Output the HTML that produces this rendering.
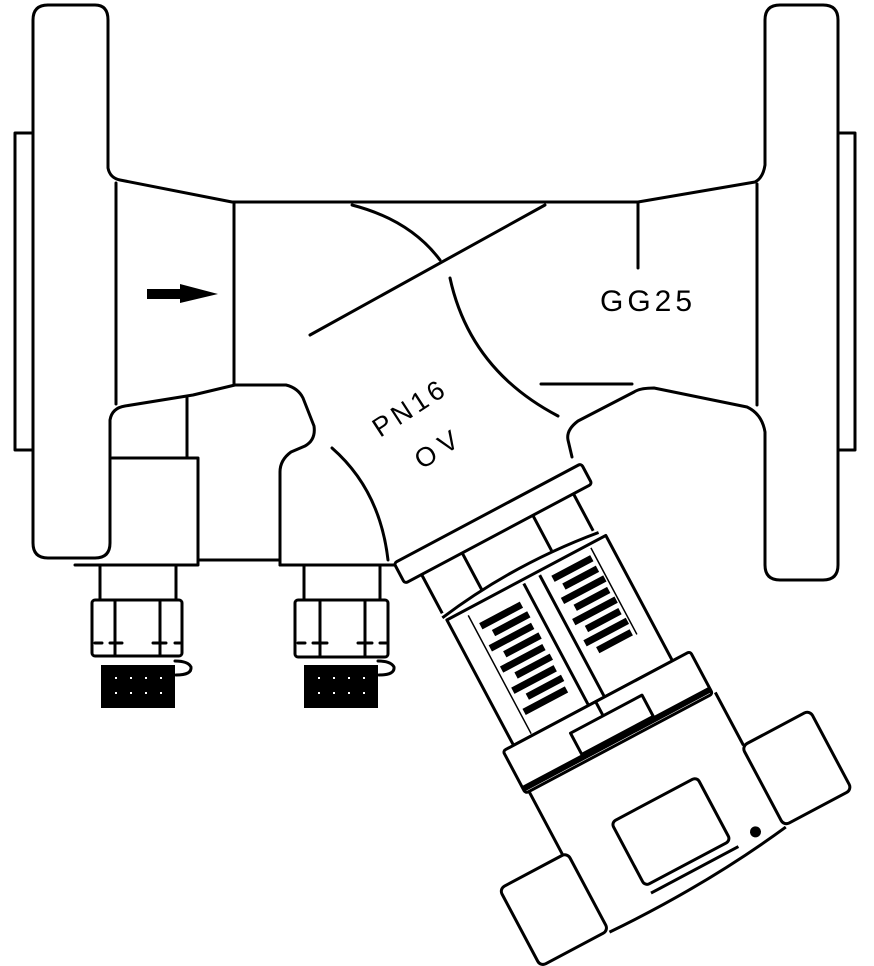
<!DOCTYPE html>
<html><head><meta charset="utf-8"><style>
html,body{margin:0;padding:0;background:#fff;width:874px;height:966px;overflow:hidden}
svg{display:block}
text{font-family:"Liberation Sans",sans-serif;fill:#000}
</style></head><body>
<svg width="874" height="966" viewBox="0 0 874 966" xmlns="http://www.w3.org/2000/svg">
<g fill="none" stroke="#000" stroke-width="3" stroke-linejoin="round" stroke-linecap="round">
<path d="M15,133 H33 M15,133 V450 H33"/>
<path d="M48,5 H95 Q108,5 108,20 V168 Q110,178 120,180 L232,202 H638 L755,182 Q763,178 765,165 V20 Q765,5 780,5 H823 Q838,5 838,20 V565 Q838,580 823,580 H780 Q765,580 765,565 V432 Q762,414 747,407 L654,388 Q640,388 634,392 L578,421 Q566,430 568,440 L572,457"/>
<path d="M838,133 H855 V450 H838"/>
<path d="M48,5 Q33,5 33,20 V543 Q33,558 48,558 H95 Q110,558 110,543 V420 Q112,408 125,406 L193,395 L235,385 H286 Q298,388 303,398 L314,426 Q316,440 305,446 L291,452 Q280,460 280,472 V565"/>
<line x1="116" y1="183" x2="116" y2="404"/>
<line x1="234" y1="203" x2="234" y2="385"/>
<line x1="757" y1="184" x2="757" y2="405"/>
<line x1="187" y1="398" x2="187" y2="458"/>
<path d="M112,458 H198 V565 H75"/>
<line x1="198" y1="560" x2="280" y2="560"/>
<line x1="280" y1="565" x2="402" y2="565"/>
<path d="M332,448 Q380,490 388,560"/>
<path d="M352,205 Q410,220 440,260"/>
<line x1="310" y1="335" x2="545" y2="205"/>
<path d="M450,278 Q470,370 558,416"/>
<line x1="541" y1="384" x2="632" y2="384"/>
<line x1="638" y1="203" x2="638" y2="268"/>
<path d="M100,565 V600 M176,565 V600"/>
<rect x="92" y="600" width="90" height="56" rx="3"/>
<path d="M115,600 V656 M160,600 V656 M95,643 H102 M110,643 H122 M153,643 H166 M175,643 H180"/>
<path d="M175,661 Q188,661 191,667 Q192,675 176,675"/>
<path d="M304,565 V600 M380,565 V600"/>
<rect x="295" y="600" width="93" height="57" rx="3"/>
<path d="M320,600 V657 M365,600 V657 M298,643 H305 M313,643 H327 M358,643 H372 M380,643 H386"/>
<path d="M378,661 Q391,661 394,667 Q395,675 379,675"/>
</g>
<rect x="101" y="665" width="74" height="43" fill="#000"/>
<rect x="304" y="665" width="74" height="43" fill="#000"/>
<g fill="#fff">
<rect x="115" y="677" width="2" height="2"/><rect x="130" y="677" width="2" height="2"/><rect x="145" y="677" width="2" height="2"/><rect x="160" y="677" width="2" height="2"/>
<rect x="115" y="692" width="2" height="2"/><rect x="130" y="692" width="2" height="2"/><rect x="145" y="692" width="2" height="2"/><rect x="160" y="692" width="2" height="2"/>
<rect x="318" y="677" width="2" height="2"/><rect x="333" y="677" width="2" height="2"/><rect x="348" y="677" width="2" height="2"/><rect x="363" y="677" width="2" height="2"/>
<rect x="318" y="692" width="2" height="2"/><rect x="333" y="692" width="2" height="2"/><rect x="348" y="692" width="2" height="2"/><rect x="363" y="692" width="2" height="2"/>
</g>
<path d="M147,289 H180 V284 L218,294 L180,303 V299 H147 Z" fill="#000"/>
<text x="600" y="311" font-size="30" letter-spacing="4">GG25</text>
<text transform="translate(380,438) rotate(-33)" font-size="27" letter-spacing="4">PN16</text>
<text transform="translate(422,470) rotate(-33)" font-size="27" letter-spacing="7">OV</text>
<g transform="translate(490,520) rotate(-28)" fill="none" stroke="#000" stroke-width="3" stroke-linejoin="round">
<rect x="-105" y="-7" width="212" height="23" rx="3" fill="#fff"/>
<path d="M-86,16 V60 M86,16 V58"/>
<path d="M-88,64 Q0,50 90,62"/>
<path d="M-40,16 V58 M40,16 V56"/>
<rect x="-85" y="68" width="180" height="142"/>
<path d="M0,72 V210 M18,72 V210"/>
<path d="M-64,74 V208 M76,72 V170" stroke-width="1.5"/>
<g fill="#000" stroke="none">
<rect x="-58" y="86" width="46" height="7"/><rect x="-50" y="98" width="40" height="7"/>
<rect x="-60" y="110" width="48" height="7"/><rect x="-50" y="122" width="40" height="7"/>
<rect x="-60" y="134" width="48" height="7"/><rect x="-50" y="146" width="40" height="7"/>
<rect x="-60" y="158" width="48" height="7"/><rect x="-50" y="170" width="40" height="7"/>
<rect x="-60" y="182" width="48" height="7"/>
<rect x="28" y="78" width="44" height="7"/><rect x="34" y="90" width="38" height="7"/>
<rect x="26" y="102" width="48" height="7"/><rect x="34" y="114" width="38" height="7"/>
<rect x="26" y="126" width="48" height="7"/><rect x="34" y="138" width="38" height="7"/>
<rect x="26" y="150" width="48" height="7"/><rect x="34" y="162" width="38" height="7"/>
</g>
<rect x="-97" y="210" width="212" height="48" rx="3" fill="#fff"/>
<line x1="-97" y1="253" x2="115" y2="253" stroke-width="6"/>
<rect x="-29" y="226" width="81" height="24"/>
<path d="M8,210 V226"/>
<path d="M-93,258 V330 M118,258 V318"/>
<rect x="-165" y="330" width="77" height="88" rx="6"/>
<rect x="116" y="318" width="77" height="90" rx="6"/>
<path d="M-88,420 Q20,424 117,410"/>
<rect x="-35" y="324" width="97" height="72" rx="5"/>
<line x1="-33" y1="405" x2="66" y2="405"/>
<circle cx="88" cy="400" r="4" fill="#000"/>
</g>
</svg>
</body></html>
